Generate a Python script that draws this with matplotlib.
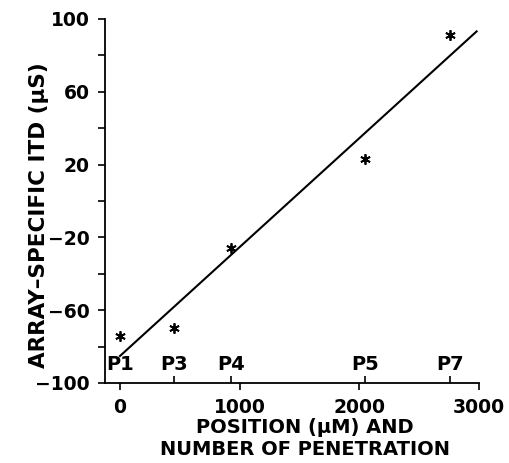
import numpy as np
import matplotlib.pyplot as plt

# penetration positions (um) and array-specific ITD (us)
penetration = ['P1', 'P3', 'P4', 'P5', 'P7']
position = [0, 450, 930, 2045, 2755]
itd = [-74, -70, -26, 23, 91]

xticks = [0, 1000, 2000, 3000]
yticks = [-100, -60, -20, 20, 60, 100]
yminor = [-80, -40, 0, 40, 80]

plt.rcParams['font.family'] = 'DejaVu Sans'
plt.rcParams['font.weight'] = 'bold'
plt.rcParams['axes.labelweight'] = 'bold'

fig = plt.figure(figsize=(5.09, 4.63), dpi=100)
ax = fig.add_axes([0.2063, 0.1728, 0.7348, 0.7862])

# regression line
slope, icpt = np.polyfit(position, itd, 1)
fx = np.array([0, 2980])
ax.plot(fx, slope * fx + icpt, color='black', lw=1.5)

ax.plot(position, itd, linestyle='none', marker=(6, 2, 0), markersize=7.5,
        markeredgewidth=1.3, color='black')

ax.set_xlim(-125, 3000)
ax.set_ylim(-100, 100)
ax.spines['top'].set_visible(False)
ax.spines['right'].set_visible(False)
for s in ['left', 'bottom']:
    ax.spines[s].set_linewidth(1.3)

ax.set_xticks(xticks)
ax.set_xticks(position, minor=True)
ax.set_yticks(yticks)
ax.set_yticks(yminor, minor=True)
ax.yaxis.set_major_formatter(plt.FuncFormatter(lambda v, p: f'{int(v)}'.replace('-', '\u2212')))
ax.tick_params(axis='both', which='major', length=5, width=1.2, labelsize=13.5, pad=6)
ax.tick_params(axis='y', which='minor', length=5, width=1.2)
ax.tick_params(axis='x', which='minor', direction='in', length=5, width=1.2)

for name, x in zip(penetration, position):
    ax.annotate(name, xy=(x, 0), xycoords=('data', 'axes fraction'),
                xytext=(0, 9), textcoords='offset points',
                ha='center', va='baseline', fontsize=14)

ax.set_xlabel('POSITION (\u00b5M) AND\nNUMBER OF PENETRATION', fontsize=14,
              linespacing=1.2)
ax.xaxis.set_label_coords(0.535, -0.095, transform=ax.transAxes)
ax.xaxis.label.set_va('top')
ax.set_ylabel('ARRAY\u2013SPECIFIC ITD (\u00b5S)', fontsize=15.5)
ax.yaxis.set_label_coords(-0.15, 0.46)

fig.savefig('out.png', dpi=100)
